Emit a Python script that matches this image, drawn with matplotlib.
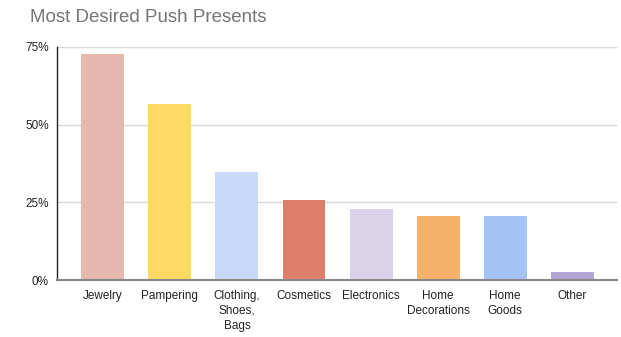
import matplotlib.pyplot as plt
from matplotlib.ticker import FuncFormatter

plt.rcParams['font.family'] = ['Liberation Sans', 'DejaVu Sans']

categories = ['Jewelry', 'Pampering', 'Clothing,\nShoes,\nBags', 'Cosmetics',
              'Electronics', 'Home\nDecorations', 'Home\nGoods', 'Other']
values = [72.7, 56.6, 34.7, 25.7, 22.7, 20.6, 20.6, 2.6]
colors = ['#E6B8AF', '#FFD966', '#C9DAF8', '#DD7E6B',
          '#D9D2E9', '#F6B26B', '#A4C2F4', '#B4A7D6']

fig = plt.figure(figsize=(6.21, 3.37), dpi=100)
ax = fig.add_axes([0.092, 0.169, 0.902, 0.692])

x = range(len(categories))
ax.bar(x, values, width=0.64, color=colors, zorder=3)

ax.set_ylim(0, 75)
ax.set_xlim(-0.68, 7.67)
ax.set_yticks([0, 25, 50, 75])
ax.yaxis.set_major_formatter(FuncFormatter(lambda v, p: f'{int(v)}%'))
ax.set_xticks(list(x))
ax.set_xticklabels(categories, fontsize=8.5, color='#222222', linespacing=1.35)
ax.tick_params(axis='y', labelsize=8.5, colors='#222222', length=0, pad=6)
ax.tick_params(axis='x', length=0, pad=7)

ax.grid(axis='y', color='#d9d9d9', linewidth=1, zorder=0)
for s in ['top', 'right']:
    ax.spines[s].set_visible(False)
ax.spines['left'].set_color('#222222')
ax.spines['left'].set_linewidth(1)
ax.spines['bottom'].set_color('#888888')
ax.spines['bottom'].set_linewidth(1.5)
ax.spines['bottom'].set_zorder(4)

fig.text(0.048, 0.947, 'Most Desired Push Presents', fontsize=13.5,
         color='#757575', va='center', ha='left')

fig.savefig('out.png', dpi=100)
